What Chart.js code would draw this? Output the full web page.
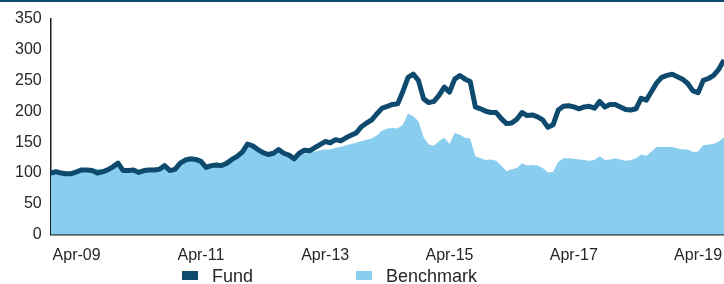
<!DOCTYPE html>
<html>
<head>
<meta charset="utf-8">
<script src="https://cdn.jsdelivr.net/npm/chart.js@4/dist/chart.umd.min.js"></script>
<style>
  html, body { margin: 0; padding: 0; background: #fff; overflow: hidden; }
  #wrap { position: relative; width: 724px; height: 284px; }
  #topLine { position: absolute; left: 0; top: 0; width: 724px; height: 2px; background: #0d4a6e; }
  #myChart { position: absolute; left: 0; top: 0; }
  .legend-item { position: absolute; top: 266px; font-family: "Liberation Sans", Arial, sans-serif; font-size: 18px; color: #262626; line-height: 20px; }
  .legend-box { position: absolute; width: 16px; height: 9px; top: 271px; }
</style>
</head>
<body>
<div id="wrap">
  <canvas id="myChart" width="724" height="276"></canvas>
  <div id="topLine"></div>
  <div class="legend-box" style="left:182px;background:#0d4a6e"></div>
  <div class="legend-item" style="left:212px">Fund</div>
  <div class="legend-box" style="left:356px;background:#89cdef"></div>
  <div class="legend-item" style="left:386px">Benchmark</div>
</div>
<script>
// Monthly series, first point Nov-08
var startYear = 2008;
var startMonth = 10; // 0-based, November
var monthNames = ["Jan","Feb","Mar","Apr","May","Jun","Jul","Aug","Sep","Oct","Nov","Dec"];

// Only these labels are shown on the x axis
var tickLabels = ["Apr-09", "Apr-11", "Apr-13", "Apr-15", "Apr-17", "Apr-19"];

var fund = [
  100, 102, 100, 99, 99, 102, 105, 105, 104, 100,
  102, 105, 110, 116, 104, 104, 105, 101, 104, 105,
  105, 106, 112, 104, 106, 116, 121, 123, 122, 119,
  109, 112, 113, 112, 116, 122, 127, 134, 147, 144,
  138, 133, 130, 132, 138, 132, 129, 123, 132, 137,
  136, 141, 146, 151, 149, 154, 152, 157, 161, 165,
  175, 181, 186, 196, 205, 208, 211, 212, 232, 255,
  260, 250, 220, 214, 216, 226, 239, 231, 252, 258,
  252, 248, 207, 204, 200, 198, 198, 188, 180, 181,
  187, 198, 193, 194, 191, 186, 174, 178, 202, 208,
  209, 207, 204, 207, 208, 205, 216, 207, 211, 211,
  207, 203, 202, 204, 221, 218, 232, 246, 255, 258,
  260, 256, 252, 245, 233, 230, 250, 253, 258, 268,
  283
];

var benchmark = [
  100, 101, 100, 99, 99, 102, 105, 106, 107, 107,
  106, 106, 110, 114, 104, 104, 105, 101, 104, 105,
  105, 106, 111, 103, 105, 115, 120, 122, 121, 118,
  108, 111, 112, 111, 115, 120, 125, 131, 143, 141,
  135, 131, 128, 130, 134, 129, 127, 122, 128, 132,
  132, 135, 137, 138, 138, 141, 142, 145, 147, 149,
  152, 154, 156, 161, 169, 172, 173, 172, 178, 196,
  192, 184, 158, 146, 144, 152, 157, 147, 165, 162,
  157, 156, 127, 124, 121, 122, 120, 112, 103, 106,
  108, 116, 112, 113, 112, 108, 101, 102, 118, 124,
  124, 123, 122, 121, 120, 121, 127, 121, 122, 124,
  122, 120, 121, 124, 130, 128, 135, 142, 142, 142,
  142, 140, 138, 138, 134, 135, 145, 146, 147, 151,
  158
];

var yTicks = [0, 50, 100, 150, 200, 250, 300, 350];

// Month labels for the category axis
var months = [];
for (var i = 0; i < fund.length; i++) {
  var m = (startMonth + i) % 12;
  var y = startYear + Math.floor((startMonth + i) / 12);
  months.push(monthNames[m] + "-" + String(y).slice(2));
}

var ctx = document.getElementById("myChart").getContext("2d");

Chart.defaults.font.family = '"Liberation Sans", Arial, sans-serif';
Chart.defaults.font.size = 16;
Chart.defaults.color = "#262626";

var myChart = new Chart(ctx, {
  type: "line",
  data: {
    labels: months,
    datasets: [
      {
        label: "Fund",
        data: fund,
        borderColor: "#0d4a6e",
        borderWidth: 5,
        pointRadius: 0,
        fill: false,
        tension: 0,
        borderJoinStyle: "round",
        order: 0
      },
      {
        label: "Benchmark",
        data: benchmark,
        borderWidth: 0,
        borderColor: "#89cdef",
        backgroundColor: "#89cdef",
        pointRadius: 0,
        fill: "origin",
        tension: 0,
        order: 1
      }
    ]
  },
  options: {
    responsive: false,
    animation: false,
    layout: { padding: { left: 6, right: 0, top: 12, bottom: 0 } },
    plugins: {
      legend: { display: false },
      tooltip: { enabled: false }
    },
    scales: {
      x: {
        offset: false,
        grid: { display: false, drawTicks: false, tickLength: 0 },
        border: { display: true, color: "#1a1a1a", width: 1.5 },
        ticks: {
          autoSkip: false,
          maxRotation: 0,
          padding: 11,
          callback: function (value, index) {
            var lab = months[index];
            return tickLabels.indexOf(lab) >= 0 ? lab : "";
          }
        },
        afterFit: function (axis) {
          // the picture is cut at the right edge, no room kept for labels
          axis.paddingRight = 0;
          axis.paddingLeft = 0;
        }
      },
      y: {
        min: 0,
        max: 350,
        grid: { display: false, drawTicks: false, tickLength: 0 },
        border: { display: true, color: "#1a1a1a", width: 1.5 },
        afterBuildTicks: function (axis) {
          axis.ticks = yTicks.map(function (v) { return { value: v }; });
        },
        ticks: { padding: 9 }
      }
    }
  }
});
</script>
</body>
</html>
